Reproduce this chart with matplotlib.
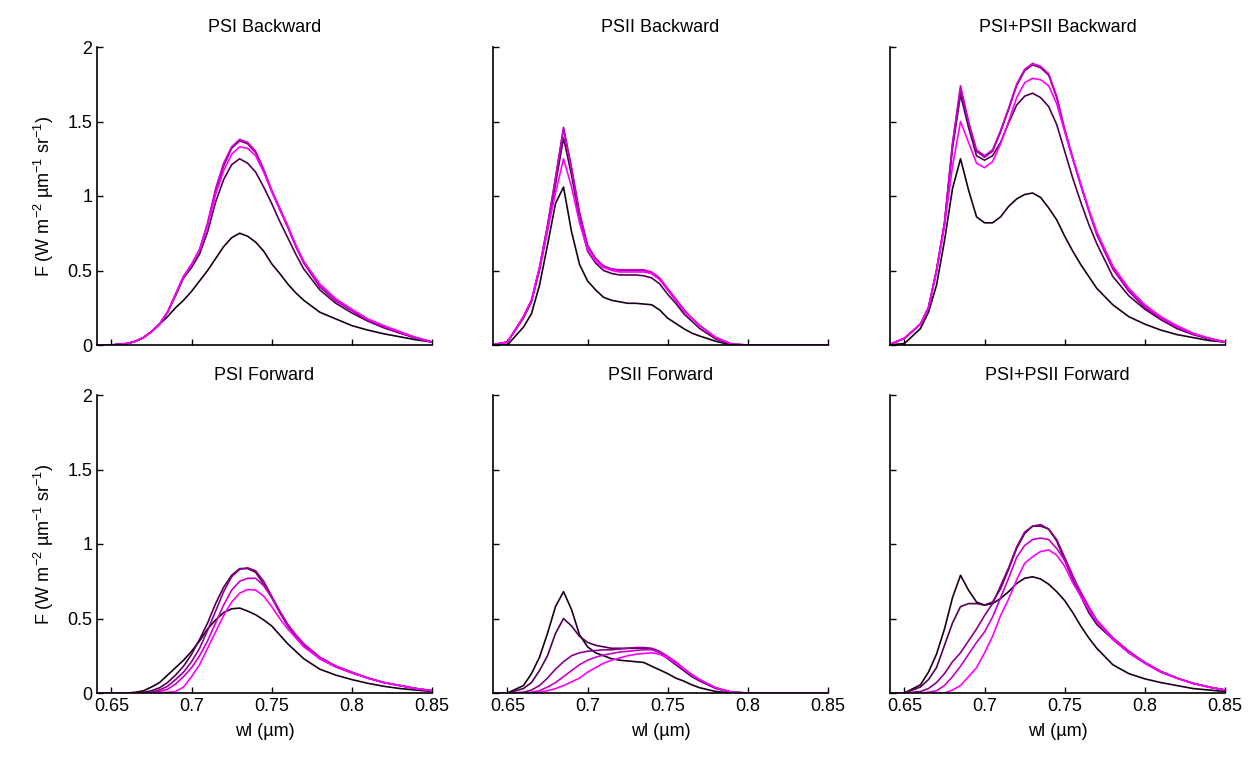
import numpy as np
import matplotlib
matplotlib.use("Agg")
import matplotlib.pyplot as plt

plt.rcParams['font.family'] = ['Liberation Sans', 'DejaVu Sans']
plt.rcParams['mathtext.fontset'] = 'custom'
plt.rcParams['mathtext.rm'] = 'Liberation Sans'
plt.rcParams['mathtext.it'] = 'Liberation Sans:italic'

# wavelength grid (um)
wl = [0.64, 0.65, 0.66, 0.665, 0.67, 0.675, 0.68, 0.685, 0.69, 0.695,
      0.70, 0.705, 0.71, 0.715, 0.72, 0.725, 0.73, 0.735, 0.74, 0.745,
      0.75, 0.755, 0.76, 0.765, 0.77,
      0.78, 0.79, 0.80, 0.81, 0.82, 0.83, 0.84, 0.85]

titles = ['PSI Backward', 'PSII Backward', 'PSI+PSII Backward',
          'PSI Forward', 'PSII Forward', 'PSI+PSII Forward']

# five curves per panel, dark -> magenta
psi_back = [
    [0, 0, 0.01, 0.025, 0.05, 0.09, 0.14, 0.19, 0.25, 0.30,
     0.36, 0.43, 0.50, 0.58, 0.66, 0.72, 0.75, 0.73, 0.69, 0.63,
     0.545, 0.48, 0.41, 0.35, 0.30,
     0.22, 0.175, 0.13, 0.10, 0.075, 0.055, 0.035, 0.02],
    [0, 0, 0.01, 0.025, 0.05, 0.09, 0.14, 0.22, 0.33, 0.45,
     0.52, 0.61, 0.76, 0.96, 1.11, 1.21, 1.25, 1.22, 1.16, 1.06,
     0.95, 0.83, 0.72, 0.61, 0.51,
     0.37, 0.28, 0.215, 0.16, 0.115, 0.08, 0.045, 0.02],
    [0, 0, 0.01, 0.025, 0.05, 0.09, 0.14, 0.22, 0.34, 0.46,
     0.54, 0.64, 0.81, 1.03, 1.20, 1.32, 1.37, 1.35, 1.29, 1.17,
     1.03, 0.91, 0.79, 0.66, 0.55,
     0.39, 0.295, 0.23, 0.165, 0.12, 0.08, 0.05, 0.02],
    [0, 0, 0.01, 0.025, 0.05, 0.09, 0.14, 0.22, 0.34, 0.46,
     0.54, 0.64, 0.82, 1.05, 1.22, 1.33, 1.38, 1.36, 1.30, 1.18,
     1.04, 0.92, 0.80, 0.67, 0.56,
     0.40, 0.30, 0.235, 0.17, 0.125, 0.085, 0.05, 0.02],
    [0, 0, 0.01, 0.025, 0.05, 0.09, 0.14, 0.22, 0.34, 0.46,
     0.54, 0.64, 0.80, 1.01, 1.17, 1.28, 1.33, 1.32, 1.27, 1.16,
     1.03, 0.91, 0.80, 0.67, 0.56,
     0.41, 0.31, 0.24, 0.175, 0.13, 0.09, 0.05, 0.02],
]

psii_back = [
    [0, 0, 0.12, 0.21, 0.40, 0.67, 0.95, 1.06, 0.76, 0.54,
     0.43, 0.37, 0.32, 0.30, 0.29, 0.28, 0.28, 0.275, 0.27, 0.235,
     0.18, 0.145, 0.11, 0.08, 0.06,
     0.025, 0, 0, 0, 0, 0, 0, 0],
    [0, 0.02, 0.18, 0.29, 0.50, 0.77, 1.08, 1.39, 1.14, 0.84,
     0.63, 0.55, 0.50, 0.48, 0.47, 0.47, 0.47, 0.465, 0.45, 0.41,
     0.34, 0.28, 0.21, 0.16, 0.11,
     0.04, 0.005, 0, 0, 0, 0, 0, 0],
    [0, 0.02, 0.19, 0.30, 0.52, 0.80, 1.12, 1.46, 1.19, 0.89,
     0.67, 0.58, 0.53, 0.51, 0.50, 0.50, 0.50, 0.50, 0.48, 0.44,
     0.37, 0.30, 0.23, 0.18, 0.13,
     0.05, 0.005, 0, 0, 0, 0, 0, 0],
    [0, 0.02, 0.19, 0.30, 0.52, 0.80, 1.12, 1.45, 1.18, 0.88,
     0.66, 0.58, 0.53, 0.51, 0.505, 0.505, 0.505, 0.505, 0.49, 0.45,
     0.38, 0.31, 0.24, 0.18, 0.13,
     0.05, 0.005, 0, 0, 0, 0, 0, 0],
    [0, 0.02, 0.19, 0.30, 0.51, 0.77, 1.02, 1.25, 1.06, 0.82,
     0.64, 0.56, 0.52, 0.50, 0.49, 0.49, 0.49, 0.49, 0.48, 0.44,
     0.37, 0.30, 0.23, 0.18, 0.13,
     0.05, 0.005, 0, 0, 0, 0, 0, 0],
]

both_back = [
    [0, 0.01, 0.11, 0.22, 0.40, 0.70, 1.05, 1.25, 1.04, 0.86,
     0.82, 0.82, 0.86, 0.93, 0.98, 1.01, 1.02, 0.99, 0.92, 0.84,
     0.73, 0.63, 0.54, 0.46, 0.38,
     0.27, 0.19, 0.14, 0.10, 0.07, 0.05, 0.03, 0.02],
    [0, 0.045, 0.14, 0.25, 0.50, 0.81, 1.32, 1.68, 1.46, 1.27,
     1.24, 1.27, 1.36, 1.49, 1.61, 1.67, 1.69, 1.66, 1.60, 1.48,
     1.30, 1.12, 0.96, 0.81, 0.68,
     0.46, 0.33, 0.24, 0.17, 0.11, 0.07, 0.04, 0.02],
    [0, 0.045, 0.14, 0.25, 0.50, 0.82, 1.35, 1.72, 1.49, 1.30,
     1.26, 1.30, 1.43, 1.58, 1.74, 1.84, 1.88, 1.86, 1.81, 1.66,
     1.44, 1.25, 1.07, 0.90, 0.74,
     0.51, 0.36, 0.25, 0.18, 0.12, 0.075, 0.045, 0.02],
    [0, 0.045, 0.14, 0.25, 0.50, 0.82, 1.35, 1.74, 1.50, 1.31,
     1.27, 1.31, 1.44, 1.59, 1.75, 1.85, 1.89, 1.87, 1.82, 1.67,
     1.45, 1.26, 1.08, 0.91, 0.75,
     0.52, 0.37, 0.26, 0.18, 0.12, 0.075, 0.045, 0.02],
    [0, 0.045, 0.14, 0.25, 0.49, 0.80, 1.20, 1.50, 1.36, 1.22,
     1.19, 1.23, 1.35, 1.50, 1.66, 1.76, 1.79, 1.78, 1.74, 1.62,
     1.43, 1.25, 1.08, 0.91, 0.76,
     0.53, 0.38, 0.27, 0.19, 0.13, 0.08, 0.045, 0.02],
]

psi_fwd = [
    [0, 0, 0, 0.005, 0.015, 0.04, 0.07, 0.12, 0.17, 0.22,
     0.28, 0.35, 0.43, 0.49, 0.54, 0.565, 0.57, 0.55, 0.525, 0.49,
     0.45, 0.39, 0.33, 0.28, 0.23,
     0.16, 0.12, 0.09, 0.065, 0.045, 0.03, 0.02, 0.01],
    [0, 0, 0, 0, 0.005, 0.015, 0.035, 0.07, 0.12, 0.18,
     0.26, 0.36, 0.47, 0.60, 0.71, 0.79, 0.835, 0.835, 0.81, 0.73,
     0.64, 0.54, 0.45, 0.38, 0.32,
     0.23, 0.175, 0.135, 0.10, 0.07, 0.05, 0.03, 0.015],
    [0, 0, 0, 0, 0, 0.005, 0.02, 0.045, 0.09, 0.14,
     0.21, 0.30, 0.42, 0.55, 0.68, 0.78, 0.83, 0.84, 0.82, 0.75,
     0.65, 0.55, 0.46, 0.39, 0.33,
     0.24, 0.18, 0.14, 0.10, 0.07, 0.05, 0.03, 0.015],
    [0, 0, 0, 0, 0, 0, 0.01, 0.025, 0.06, 0.11,
     0.17, 0.25, 0.35, 0.47, 0.59, 0.69, 0.75, 0.77, 0.77, 0.72,
     0.64, 0.55, 0.46, 0.39, 0.33,
     0.24, 0.18, 0.14, 0.10, 0.07, 0.05, 0.03, 0.015],
    [0, 0, 0, 0, 0, 0, 0, 0.005, 0.01, 0.04,
     0.11, 0.19, 0.30, 0.41, 0.52, 0.61, 0.67, 0.695, 0.69, 0.65,
     0.58, 0.50, 0.43, 0.37, 0.31,
     0.23, 0.175, 0.135, 0.10, 0.07, 0.05, 0.03, 0.015],
]

psii_fwd = [
    [0, 0, 0.05, 0.13, 0.24, 0.40, 0.58, 0.68, 0.56, 0.39,
     0.31, 0.27, 0.25, 0.23, 0.22, 0.215, 0.21, 0.205, 0.18, 0.155,
     0.13, 0.10, 0.08, 0.055, 0.035,
     0.01, 0, 0, 0, 0, 0, 0, 0],
    [0, 0, 0.03, 0.07, 0.15, 0.25, 0.40, 0.50, 0.45, 0.38,
     0.34, 0.32, 0.31, 0.30, 0.30, 0.30, 0.30, 0.30, 0.295, 0.27,
     0.23, 0.19, 0.15, 0.11, 0.08,
     0.03, 0.005, 0, 0, 0, 0, 0, 0],
    [0, 0, 0.005, 0.02, 0.05, 0.10, 0.16, 0.21, 0.25, 0.27,
     0.28, 0.285, 0.29, 0.29, 0.295, 0.30, 0.305, 0.305, 0.30, 0.28,
     0.245, 0.20, 0.16, 0.12, 0.085,
     0.035, 0.005, 0, 0, 0, 0, 0, 0],
    [0, 0, 0, 0.005, 0.015, 0.04, 0.07, 0.11, 0.15, 0.19,
     0.22, 0.24, 0.255, 0.265, 0.275, 0.28, 0.285, 0.29, 0.29, 0.275,
     0.245, 0.21, 0.165, 0.125, 0.09,
     0.035, 0.005, 0, 0, 0, 0, 0, 0],
    [0, 0, 0, 0, 0.005, 0.015, 0.03, 0.05, 0.075, 0.10,
     0.14, 0.17, 0.20, 0.22, 0.235, 0.25, 0.26, 0.265, 0.27, 0.26,
     0.235, 0.20, 0.16, 0.12, 0.09,
     0.035, 0.005, 0, 0, 0, 0, 0, 0],
]

both_fwd = [
    [0, 0, 0.055, 0.14, 0.26, 0.43, 0.64, 0.79, 0.69, 0.61,
     0.59, 0.60, 0.635, 0.68, 0.735, 0.77, 0.78, 0.765, 0.73, 0.68,
     0.62, 0.54, 0.45, 0.37, 0.30,
     0.19, 0.13, 0.095, 0.07, 0.05, 0.03, 0.02, 0.01],
    [0, 0, 0.04, 0.09, 0.17, 0.32, 0.47, 0.58, 0.60, 0.60,
     0.59, 0.61, 0.70, 0.83, 0.97, 1.07, 1.12, 1.12, 1.10, 1.02,
     0.89, 0.76, 0.65, 0.54, 0.46,
     0.36, 0.27, 0.20, 0.14, 0.10, 0.065, 0.04, 0.02],
    [0, 0, 0.01, 0.03, 0.07, 0.13, 0.21, 0.27, 0.35, 0.43,
     0.52, 0.60, 0.72, 0.84, 0.98, 1.08, 1.12, 1.13, 1.10, 1.03,
     0.91, 0.79, 0.67, 0.56, 0.48,
     0.37, 0.28, 0.205, 0.145, 0.10, 0.065, 0.04, 0.02],
    [0, 0, 0, 0.005, 0.015, 0.05, 0.11, 0.18, 0.26, 0.34,
     0.41, 0.51, 0.64, 0.77, 0.91, 0.99, 1.03, 1.04, 1.03, 0.97,
     0.89, 0.78, 0.68, 0.58, 0.49,
     0.37, 0.28, 0.205, 0.145, 0.10, 0.065, 0.04, 0.02],
    [0, 0, 0, 0, 0, 0, 0.02, 0.05, 0.11, 0.17,
     0.27, 0.38, 0.52, 0.63, 0.76, 0.87, 0.915, 0.95, 0.96, 0.925,
     0.85, 0.74, 0.65, 0.56, 0.48,
     0.36, 0.27, 0.20, 0.14, 0.10, 0.065, 0.04, 0.02],
]

panels = [psi_back, psii_back, both_back, psi_fwd, psii_fwd, both_fwd]

colors = [(0.1, 0.0, 0.1), (0.32, 0.0, 0.32), (0.55, 0.0, 0.55),
          (0.8, 0.0, 0.8), (1.0, 0.0, 1.0)]

xticks = [0.65, 0.70, 0.75, 0.80, 0.85]
xticklabels = ['0.65', '0.7', '0.75', '0.8', '0.85']
yticks = [0, 0.5, 1, 1.5, 2]
yticklabels = ['0', '0.5', '1', '1.5', '2']

fig = plt.figure(figsize=(12.55, 7.6), dpi=100)

lefts = [97, 493, 890]
tops = [47, 395]
w_px, h_px = 335, 298

for i, curves in enumerate(panels):
    row, col = divmod(i, 3)
    ax = fig.add_axes([lefts[col] / 1255, 1 - (tops[row] + h_px) / 760,
                       w_px / 1255, h_px / 760])
    for c, y in zip(colors, curves):
        ax.plot(wl, y, color=c, lw=1.2)
    ax.set_xlim(0.641, 0.85)
    ax.set_ylim(0, 2)
    ax.spines['top'].set_visible(False)
    ax.spines['right'].set_visible(False)
    ax.spines['left'].set_linewidth(1.2)
    ax.spines['bottom'].set_linewidth(1.2)
    ax.tick_params(direction='in', length=4, width=1, labelsize=13)
    ax.set_xticks(xticks)
    ax.set_yticks(yticks)
    if row == 1:
        ax.set_xticklabels(xticklabels)
        ax.set_xlabel('wl (µm)', fontsize=13, labelpad=6)
    else:
        ax.set_xticklabels([])
    if col == 0:
        ax.set_yticklabels(yticklabels)
        ax.set_ylabel(r'F (W m$^{-2}$ µm$^{-1}$ sr$^{-1}$)', fontsize=13, labelpad=8)
    else:
        ax.set_yticklabels([])
    ax.set_title(titles[i], fontsize=13, pad=11)

fig.savefig('out.png', dpi=100)
